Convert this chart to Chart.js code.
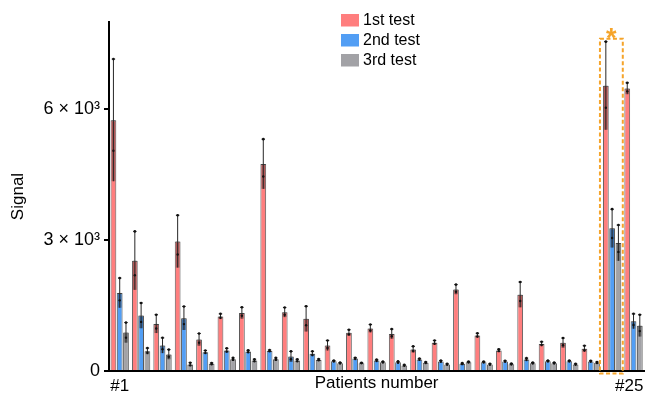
<!DOCTYPE html>
<html><head><meta charset="utf-8">
<script src="https://cdn.jsdelivr.net/npm/chart.js@4.4.1/dist/chart.umd.min.js"></script>
<style>html,body{margin:0;padding:0;background:#fff}#wrap{width:649px;height:393px;position:relative}</style>
</head><body><div id="wrap"><canvas id="c"></canvas></div>
<script>
const categories = ['#1','#2','#3','#4','#5','#6','#7','#8','#9','#10','#11','#12','#13','#14','#15','#16','#17','#18','#19','#20','#21','#22','#23','#24','#25'];
const seriesNames = ['1st test', '2nd test', '3rd test'];
const test1 = [5750, 2530, 1080, 2970, 720, 1250, 1330, 4745, 1345, 1195, 585, 875, 975, 850, 495, 650, 1870, 815, 470, 1750, 620, 645, 510, 6540, 6475];
const test1Err = [1400, 670, 210, 600, 140, 60, 130, 570, 110, 290, 115, 70, 90, 110, 70, 50, 110, 50, 30, 290, 50, 110, 70, 1010, 130];
const test2 = [1790, 1270, 585, 1210, 430, 470, 445, 460, 330, 395, 225, 285, 240, 200, 265, 220, 165, 200, 220, 265, 225, 225, 220, 3270, 1140];
const test2Err = [340, 290, 175, 270, 40, 50, 30, 20, 120, 55, 15, 20, 20, 20, 20, 20, 15, 15, 15, 30, 15, 15, 15, 440, 170];
const test3 = [880, 455, 380, 150, 165, 270, 240, 270, 240, 255, 180, 180, 200, 125, 190, 150, 200, 150, 155, 180, 180, 150, 190, 2935, 1040];
const test3Err = [230, 70, 110, 40, 20, 30, 30, 30, 30, 20, 15, 10, 15, 15, 15, 15, 15, 15, 15, 15, 15, 15, 15, 410, 250];
const yTicks = [0, 3000, 6000];
const yTickLabels = ['0', '3 × 10³', '6 × 10³'];
const yMax = 8000;
const highlightIndex = 23;
const xLabelsShown = ['#1', '#25'];

const colors = ['#FF7E7E', '#529EF4', '#A2A2A6'];
const FONT = '"Liberation Sans", Arial, Helvetica, sans-serif';
Chart.defaults.font.family = FONT;
Chart.defaults.color = '#000';

const errPlugin = {
  id: 'errbars',
  afterDatasetsDraw(chart) {
    const ctx = chart.ctx, y = chart.scales.y;
    chart.data.datasets.forEach((ds, di) => {
      const meta = chart.getDatasetMeta(di);
      meta.data.forEach((bar, i) => {
        const v = ds.data[i], e = ds.err[i], w = bar.width;
        const yTop = y.getPixelForValue(v + e), yMid = bar.y, yLow = y.getPixelForValue(Math.max(0, v - e));
        ctx.save();
        ctx.fillStyle = 'rgba(0,0,0,0.3)';
        ctx.fillRect(bar.x - w / 2 + 1, yMid, w - 2, yLow - yMid);
        ctx.strokeStyle = '#262626'; ctx.lineWidth = 1;
        ctx.beginPath(); ctx.moveTo(bar.x, yTop); ctx.lineTo(bar.x, yLow); ctx.stroke();
        ctx.beginPath(); ctx.moveTo(bar.x - w * 0.3, yTop); ctx.lineTo(bar.x + w * 0.3, yTop); ctx.stroke();
        ctx.fillStyle = '#111';
        ctx.beginPath(); ctx.arc(bar.x, yTop, 1.3, 0, Math.PI * 2); ctx.fill();
        ctx.beginPath(); ctx.arc(bar.x, yMid + (yLow - yMid) * 0.5, 1.2, 0, Math.PI * 2); ctx.fill();
        ctx.restore();
      });
    });
  }
};

const decoPlugin = {
  id: 'deco',
  afterDraw(chart) {
    const ctx = chart.ctx, y = chart.scales.y;
    const r = chart.getDatasetMeta(0).data[highlightIndex];
    const g = chart.getDatasetMeta(2).data[highlightIndex];
    const left = r.x - r.width / 2 - 3, right = g.x + g.width / 2 + 1.5;
    const top = y.getPixelForValue(test1[highlightIndex] + test1Err[highlightIndex]) - 3;
    const bottom = y.getPixelForValue(0) + 2.5;
    ctx.save();
    ctx.strokeStyle = '#F5A42A'; ctx.lineWidth = 2; ctx.setLineDash([4, 2.5]);
    ctx.strokeRect(left, top, right - left, bottom - top);
    ctx.setLineDash([]);
    ctx.fillStyle = '#F5A42A';
    ctx.font = 'bold 27px ' + FONT;
    ctx.textAlign = 'center'; ctx.textBaseline = 'alphabetic';
    ctx.fillText('*', (left + right) / 2, top + 8);
    ctx.font = '16px ' + FONT;
    ctx.textAlign = 'left'; ctx.textBaseline = 'middle';
    chart.data.datasets.forEach((ds, i) => {
      const ry = 14 + i * 20;
      ctx.fillStyle = colors[i];
      ctx.fillRect(341, ry, 18, 12.5);
      ctx.fillStyle = '#000';
      ctx.fillText(ds.label, 363, ry + 6.5);
    });
    ctx.restore();
  }
};

new Chart(document.getElementById('c'), {
  type: 'bar',
  data: {
    labels: categories,
    datasets: [
      { label: seriesNames[0], data: test1, err: test1Err, backgroundColor: colors[0], borderColor: '#5a5a5a', borderWidth: 1 },
      { label: seriesNames[1], data: test2, err: test2Err, backgroundColor: colors[1], borderColor: '#5a5a5a', borderWidth: 1 },
      { label: seriesNames[2], data: test3, err: test3Err, backgroundColor: colors[2], borderColor: '#5a5a5a', borderWidth: 1 }
    ]
  },
  options: {
    responsive: true, maintainAspectRatio: false, animation: false, devicePixelRatio: 1,
    categoryPercentage: 0.88, barPercentage: 0.92,
    layout: { padding: { top: 22, right: 2, left: 0, bottom: 0 } },
    plugins: { legend: { display: false }, tooltip: { enabled: false } },
    scales: {
      x: {
        grid: { display: false },
        border: { display: true, color: '#000', width: 2 },
        ticks: {
          autoSkip: false, maxRotation: 0, padding: -3, color: '#000',
          font: { size: 17 },
          callback: function (v, i) {
            const l = categories[i];
            if (!xLabelsShown.includes(l)) return '';
            return i === categories.length - 1 ? l + '\u2002' : l;
          }
        },
        title: { display: true, text: 'Patients number', color: '#000', font: { size: 17 }, padding: { top: 0, bottom: -1 } },
        afterFit(s) { s.height = 22; }
      },
      y: {
        min: 0, max: yMax,
        afterBuildTicks(s) { s.ticks = yTicks.map(v => ({ value: v })); },
        grid: { display: true, drawOnChartArea: false, drawTicks: true, tickLength: 5, color: '#000', lineWidth: 2 },
        border: { display: true, color: '#000', width: 2 },
        ticks: {
          padding: 4, color: '#000', font: { size: 18 },
          callback: function (v) { const k = yTicks.indexOf(v); return k >= 0 ? yTickLabels[k] : ''; }
        },
        title: { display: true, text: 'Signal', color: '#000', font: { size: 17 }, padding: { top: 8, bottom: 0 } },
        afterFit(s) { s.width = 109; }
      }
    }
  },
  plugins: [errPlugin, decoPlugin]
});
</script>
</body></html>
